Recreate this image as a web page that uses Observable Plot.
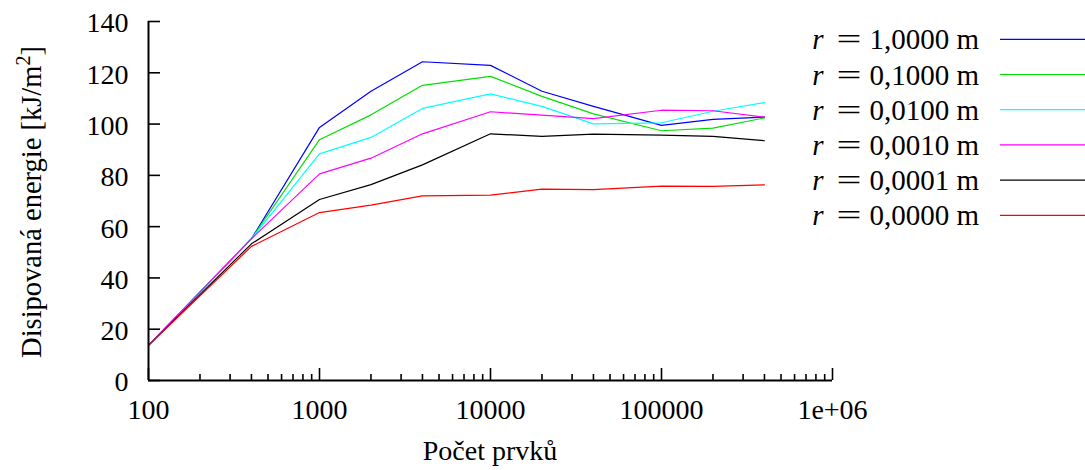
<!DOCTYPE html>
<html>
<head>
<meta charset="utf-8">
<script src="https://cdn.jsdelivr.net/npm/d3@7"></script>
<script src="https://cdn.jsdelivr.net/npm/@observablehq/plot@0.6"></script>
<style>
  html, body { margin: 0; padding: 0; background: #fff; }
</style>
</head>
<body>
<div id="chart"></div>
<script>
// Number of elements in the mesh (x, log scale)
const elementCounts = [100, 400, 1000, 2000, 4000, 10000, 20000, 40000, 100000, 200000, 400000];

// Dissipated energy [kJ/m²] for each regularisation radius r
const energyR1_0000 = [13.7, 55.3, 98.7, 112.8, 124.3, 122.9, 112.8, 106.9, 99.5, 101.8, 102.7];
const energyR0_1000 = [13.7, 55.3, 93.9, 103.6, 115.1, 118.6, 110.8, 104.0, 97.4, 98.4, 102.4];
const energyR0_0100 = [13.7, 55.3, 88.4, 94.8, 106.1, 111.8, 106.9, 100.1, 100.5, 105.0, 108.4];
const energyR0_0010 = [13.7, 55.3, 80.6, 86.7, 96.2, 104.8, 103.5, 102.1, 105.4, 105.2, 102.7];
const energyR0_0001 = [13.7, 53.3, 70.6, 76.4, 84.1, 96.2, 95.2, 96.1, 95.7, 95.2, 93.5];
const energyR0_0000 = [13.7, 52.3, 65.5, 68.4, 72.0, 72.3, 74.6, 74.4, 75.8, 75.7, 76.3];

const radiusLabels = ["1,0000", "0,1000", "0,0100", "0,0010", "0,0001", "0,0000"];
const seriesColors = ["#0000ff", "#00e000", "#00ffff", "#ff00ff", "#000000", "#ff0000"];
const seriesValues = [energyR1_0000, energyR0_1000, energyR0_0100, energyR0_0010, energyR0_0001, energyR0_0000];

// Axis ticks
const yTicks = [0, 20, 40, 60, 80, 100, 120, 140];
const xMajorTicks = [100, 1000, 10000, 100000, 1000000];
const xTickLabels = ["100", "1000", "10000", "100000", "1e+06"];
const xMinorTicks = [];
for (const decade of [100, 1000, 10000, 100000]) {
  for (let k = 2; k <= 9; k++) xMinorTicks.push(decade * k);
}

// Long-format table: one row per (series, point)
const rows = seriesValues.flatMap((vals, s) =>
  vals.map((e, i) => ({n: elementCounts[i], e, series: s}))
);

const W = 1085, H = 470;
const mL = 148, mR = 253, mT = 21, mB = 90;
const frameW = W - mL - mR, frameH = H - mT - mB;
const font = "'Liberation Serif', 'Times New Roman', serif";

const plot = Plot.plot({
  width: W,
  height: H,
  marginLeft: mL,
  marginRight: mR,
  marginTop: mT,
  marginBottom: mB,
  style: {fontFamily: font, fontSize: "28px", color: "#000", background: "#fff"},
  x: {type: "log", domain: [100, 1e6], label: null},
  y: {domain: [0, 140], label: null},
  marks: [
    Plot.axisX(xMajorTicks, {
      tickSize: 0, tickPadding: 19, fontSize: 28,
      tickFormat: d => xTickLabels[xMajorTicks.indexOf(d)]
    }),
    Plot.axisY(yTicks, {tickSize: 0, tickPadding: 20, fontSize: 28, dy: 2}),
    // inward tick marks
    Plot.tickY(yTicks, {y: d => d, insetRight: frameW - 12, strokeWidth: 1.6}),
    Plot.tickX(xMajorTicks, {x: d => d, insetTop: frameH - 12, strokeWidth: 1.6}),
    Plot.tickX(xMinorTicks, {x: d => d, insetTop: frameH - 6, strokeWidth: 1.6}),
    // series, drawn in legend order
    ...seriesColors.map((c, s) =>
      Plot.line(rows.filter(d => d.series === s), {x: "n", y: "e", stroke: c, strokeWidth: 1.2})
    ),
    // axis lines
    Plot.ruleX([100], {strokeWidth: 2}),
    Plot.ruleY([0], {strokeWidth: 2})
  ]
});

document.getElementById("chart").append(plot);

const svg = d3.select(plot);

// axis titles
svg.append("text")
  .attr("x", mL + frameW / 2)
  .attr("y", 459.5)
  .attr("text-anchor", "middle")
  .attr("font-size", 28)
  .attr("fill", "#000")
  .text("Počet prvků");

const yTitle = svg.append("text")
  .attr("transform", `translate(41,${mT + frameH / 2 + 1.5}) rotate(-90)`)
  .attr("text-anchor", "middle")
  .attr("font-size", 28.5)
  .attr("fill", "#000");
yTitle.append("tspan").text("Disipovaná energie [kJ/m");
yTitle.append("tspan").attr("font-size", 20).attr("dy", -11).text("2");
yTitle.append("tspan").attr("dy", 11).text("]");

// legend
const legend = svg.append("g").attr("font-size", 29).attr("fill", "#000");
radiusLabels.forEach((label, i) => {
  const cy = 39.3 + i * 35.2;
  legend.append("text").attr("x", 818).attr("y", cy + 10)
    .attr("font-style", "italic").text("r");
  legend.append("text").attr("x", 849).attr("y", cy + 10)
    .attr("text-anchor", "middle")
    .attr("textLength", 25).attr("lengthAdjust", "spacingAndGlyphs").text("=");
  legend.append("text").attr("x", 979).attr("y", cy + 10)
    .attr("text-anchor", "end").text(`${label} m`);
  legend.append("line")
    .attr("x1", 1000).attr("x2", W)
    .attr("y1", cy).attr("y2", cy)
    .attr("stroke", seriesColors[i]).attr("stroke-width", 1.2);
});
</script>
</body>
</html>
